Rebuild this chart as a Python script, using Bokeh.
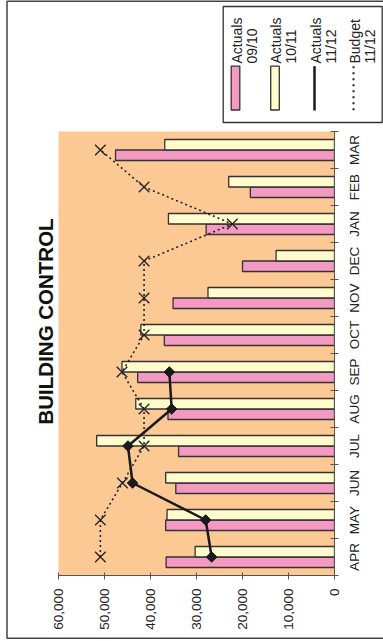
from math import pi

from bokeh.plotting import figure
from bokeh.models import Range1d, FixedTicker, NumeralTickFormatter, ColumnDataSource
from bokeh.transform import dodge
from bokeh.embed import file_html
from bokeh.resources import INLINE

# ---- data -------------------------------------------------------------
months = ["APR", "MAY", "JUN", "JUL", "AUG", "SEP",
          "OCT", "NOV", "DEC", "JAN", "FEB", "MAR"]
actuals_0910 = [36600, 36700, 34500, 33900, 36200, 42800,
                37000, 35100, 20000, 27900, 18300, 47600]
actuals_1011 = [30300, 36400, 36700, 51700, 43200, 46200,
                42100, 27500, 12700, 36100, 23000, 36900]
actuals_1112 = [26700, 28000, 43900, 44900, 35400, 35900]
budget_1112 = [50900, 50900, 46100, 41400, 41400, 46200,
               41400, 41400, 41400, 22200, 41400, 50900]
value_ticks = [0, 10000, 20000, 30000, 40000, 50000, 60000]
legend_labels = [("Actuals", "09/10"), ("Actuals", "10/11"),
                 ("Actuals", "11/12"), ("Budget", "11/12")]

# ---- styling ----------------------------------------------------------
FONT = "Liberation Sans"
PINK = "#F49AC2"
CREAM = "#FFFBCC"
PEACH = "#FCC995"
EDGE = "#333333"
AXIS = "#555555"

W, H = 383, 641
FL, FR, FT, FB = 58, 334, 131, 575      # plot frame edges in canvas pixels

centers = [i + 0.5 for i in range(len(months))]
src = ColumnDataSource(dict(y=centers, month=months, a0910=actuals_0910,
                            a1011=actuals_1011, budget=budget_1112))
src_cur = ColumnDataSource(dict(y=centers[:len(actuals_1112)], a1112=actuals_1112))

p = figure(width=W, height=H,
           x_range=Range1d(60000, 0), y_range=Range1d(0, len(months)),
           x_axis_location="below", y_axis_location="right",
           title="BUILDING CONTROL", title_location="left",
           output_backend="svg", toolbar_location=None,
           min_border_left=FL, min_border_right=W - FR,
           min_border_top=FT, min_border_bottom=H - FB)

p.background_fill_color = PEACH
p.border_fill_color = "white"
p.outline_line_color = None
p.xgrid.visible = False
p.ygrid.visible = False

p.title.text_font = FONT
p.title.text_font_size = "20.5px"
p.title.text_font_style = "bold"
p.title.text_color = "#111111"
p.title.align = "left"
p.title.offset = 151
p.title.standoff = 4

# value axis (bottom), labels turned to read upwards
xa = p.xaxis[0]
xa.ticker = FixedTicker(ticks=value_ticks, minor_ticks=[])
xa.formatter = NumeralTickFormatter(format="0,0")
xa.major_label_orientation = pi / 2
xa.major_label_text_font = FONT
xa.major_label_text_font_size = "13.5px"
xa.major_label_text_color = "#222222"
xa.major_label_standoff = 9
xa.axis_line_color = AXIS
xa.major_tick_line_color = AXIS
xa.major_tick_in = 3
xa.major_tick_out = 4
xa.minor_tick_line_color = None

# month axis (right): tick marks on the band edges
ya = p.yaxis[0]
ya.ticker = FixedTicker(ticks=[], minor_ticks=list(range(len(months) + 1)))
ya.axis_line_color = AXIS
ya.major_tick_line_color = None
ya.minor_tick_line_color = AXIS
ya.minor_tick_in = 4
ya.minor_tick_out = 4

BAR_H = 0.284
p.hbar(y=dodge("y", -BAR_H / 2, range=p.y_range), left=0, right="a0910",
       height=BAR_H, source=src, fill_color=PINK, line_color=EDGE, line_width=1.3)
p.hbar(y=dodge("y", BAR_H / 2, range=p.y_range), left=0, right="a1011",
       height=BAR_H, source=src, fill_color=CREAM, line_color=EDGE, line_width=1.3)

p.line(x="budget", y="y", source=src, line_color="#222222", line_width=1.6,
       line_dash="2 3")
p.scatter(x="budget", y="y", source=src, marker="x", size=15,
          line_color="#222222", line_width=1.3)

p.line(x="a1112", y="y", source=src_cur, line_color="#1a1a1a", line_width=2.5)
p.scatter(x="a1112", y="y", source=src_cur, marker="square", angle=pi / 4,
          size=7.5, fill_color="#1a1a1a", line_color="#1a1a1a")

# ---- canvas-pixel ranges for the legend, month names and outer frame ----
p.extra_x_ranges = {"px": Range1d(FL, FR)}
p.extra_y_ranges = {"py": Range1d(FB, FT)}
kw = dict(x_range_name="px", y_range_name="py", level="overlay")

# month names centred on each band, reading upwards
p.text(x=354, y="y", text="month", source=src, x_range_name="px", level="overlay",
       angle=pi / 2, text_align="center", text_baseline="middle",
       text_font={"value": FONT}, text_font_size="13.5px", text_color="#222222")

p.quad(left=[6.5], right=[395], top=[0.75], bottom=[637.7], fill_color=None,
       line_color="#444444", line_width=1.5, **kw)
p.quad(left=[222.7], right=[381.7], top=[6], bottom=[122], fill_color="white",
       line_color="#333333", line_width=1.3, **kw)

LX0, LSTEP = 235.0, 39.5
sw_top, sw_bot, sw_mid = 65.7, 110, 87.5
lx = [LX0 + i * LSTEP - (0.5 if i == 3 else 0) for i in range(4)]

p.quad(left=[lx[0] - 4.3, lx[1] - 4.3], right=[lx[0] + 4.3, lx[1] + 4.3],
       top=[sw_top] * 2, bottom=[sw_bot - 0.5] * 2,
       fill_color=[PINK, CREAM], line_color=EDGE, line_width=1.3, **kw)
p.line(x=[lx[2], lx[2]], y=[sw_top, sw_bot], line_color="#1a1a1a", line_width=2.5, **kw)
p.scatter(x=[lx[2]], y=[sw_mid], marker="square", angle=pi / 4, size=6.5,
          fill_color="#1a1a1a", line_color="#1a1a1a", **kw)
p.line(x=[lx[3], lx[3]], y=[sw_top, sw_bot], line_color="#222222", line_width=2,
       line_dash="2 4", **kw)
p.scatter(x=[lx[3]], y=[sw_mid], marker="x", size=10, line_color="#222222",
          line_width=1.3, **kw)

tx, ty, tt = [], [], []
for x0, (l1, l2) in zip(lx, legend_labels):
    tx += [x0 + 1, x0 + 16]
    ty += [63, 63]
    tt += [l1, l2]
p.text(x=tx, y=ty, text=tt, angle=pi / 2, text_align="left", text_baseline="middle",
       text_font={"value": FONT}, text_font_size="14px", text_color="#222222", **kw)

open("out.html", "w").write(file_html(p, INLINE))
